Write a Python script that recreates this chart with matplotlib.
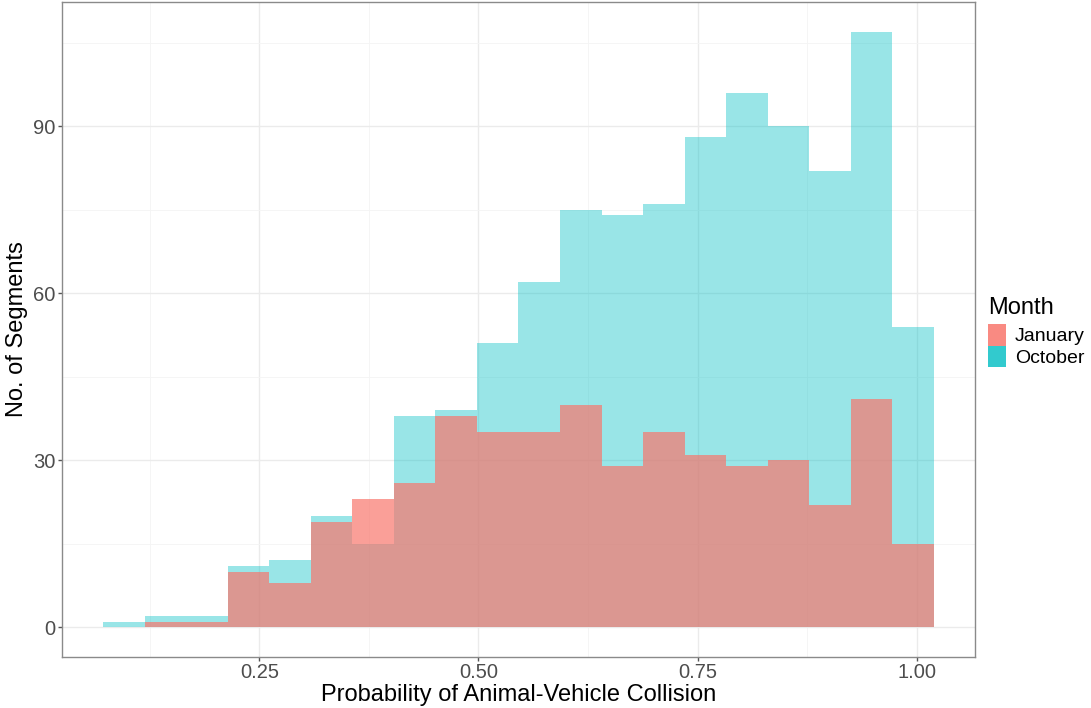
import matplotlib
matplotlib.use("Agg")
import matplotlib.pyplot as plt
import numpy as np
from matplotlib.patches import Patch

plt.rcParams['font.family'] = ['Liberation Sans', 'DejaVu Sans']

# Histogram bins (data units)
bin_start = 0.0722
bin_width = 0.04735
january = [0, 1, 1, 10, 8, 19, 23, 26, 38, 35, 35, 40, 29, 35, 31, 29, 30, 22, 41, 15]
october = [1, 2, 2, 11, 12, 20, 15, 38, 39, 51, 62, 75, 74, 76, 88, 96, 90, 82, 107, 54]
x_ticks = [0.25, 0.50, 0.75, 1.00]
x_tick_labels = ["0.25", "0.50", "0.75", "1.00"]
y_ticks = [0, 30, 60, 90]

edges = bin_start + bin_width * np.arange(len(october) + 1)
lefts = edges[:-1]

fig = plt.figure(figsize=(10.91, 7.08), dpi=100)
ax = fig.add_axes([0.0568, 0.072, 0.8369, 0.9252])

oct_col = (0/255, 191/255, 196/255)
jan_col = (248/255, 118/255, 109/255)

ax.bar(lefts, october, width=bin_width, align='edge', color=oct_col, alpha=0.4,
       linewidth=0, zorder=2)
ax.bar(lefts, january, width=bin_width, align='edge', color=jan_col, alpha=0.7,
       linewidth=0, zorder=3)

xmin, xmax = edges[0], edges[-1]
span = xmax - xmin
ax.set_xlim(xmin - 0.05 * span, xmax + 0.05 * span)
ymax = max(max(october), max(january))
ax.set_ylim(-0.05 * ymax, ymax * 1.05)

ax.set_xticks(x_ticks)
ax.set_xticklabels(x_tick_labels)
ax.set_yticks(y_ticks)
ax.set_xticks([0.125, 0.375, 0.625, 0.875], minor=True)
ax.set_yticks([15, 45, 75, 105], minor=True)

ax.grid(which='major', color='#ebebeb', linewidth=1.0, zorder=0)
ax.grid(which='minor', color='#f4f4f4', linewidth=0.6, zorder=0)
ax.set_axisbelow(True)

for s in ax.spines.values():
    s.set_color('#8a8a8a')
    s.set_linewidth(1.0)

ax.tick_params(axis='both', which='major', length=3, color='#555555', width=1,
               labelsize=14.5, labelcolor='#4d4d4d', pad=1.5)
ax.tick_params(axis='both', which='minor', length=0)

ax.set_xlabel("Probability of Animal-Vehicle Collision", fontsize=17, color='black', labelpad=1)
ax.set_ylabel("No. of Segments", fontsize=17, color='black', labelpad=4)

handles = [Patch(facecolor=(249/255, 138/255, 130/255), edgecolor='none', label='January'),
           Patch(facecolor=(50/255, 202/255, 206/255), edgecolor='none', label='October')]
leg = fig.legend(handles=handles, title='Month', loc='upper left',
                 bbox_to_anchor=(0.893, 0.6), frameon=False, fontsize=14,
                 title_fontsize=17, handlelength=0.95, handleheight=1.3,
                 handletextpad=0.45, labelspacing=0.0, borderpad=0.2)
leg._legend_box.align = "left"
leg._legend_box.sep = 4

fig.savefig("out.png", dpi=100)
